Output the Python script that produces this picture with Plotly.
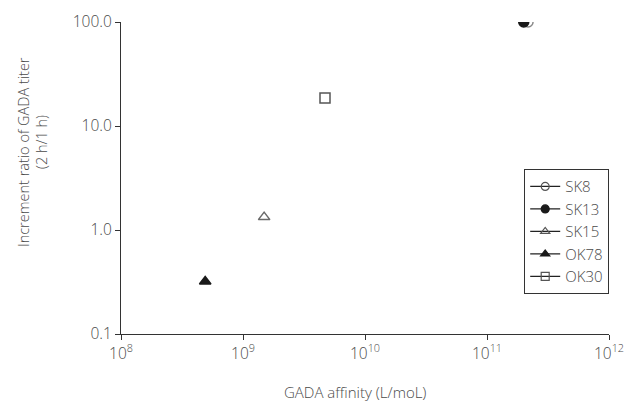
import plotly.graph_objects as go

names = ["SK8", "SK13", "SK15", "OK78", "OK30"]
affinity = [2.17e11, 2.0e11, 1.49e9, 4.9e8, 4.7e9]
ratio = [100.0, 100.0, 1.33, 0.32, 18.6]
symbols = ["circle-open", "circle", "triangle-up-open", "triangle-up", "square-open"]
marker_colors = ["#8a8a8a", "#1a1a1a", "#6a6a6a", "#1a1a1a", "#555555"]

x_tickvals = [1e8, 1e9, 1e10, 1e11, 1e12]
x_ticktext = ["10<sup>8</sup>", "10<sup>9</sup>", "10<sup>10</sup>", "10<sup>11</sup>", "10<sup>12</sup>"]
y_tickvals = [0.1, 1, 10, 100]
y_ticktext = ["0.1", "1.0", "10.0", "100.0"]

font_col = "#4a4a4a"
OFF = 8  # default page body margin
W, H = 638 - OFF, 408 - OFF
# target plot area in page pixels: x 121..609, y 22..334
L, R, T, B = 121 - OFF, 638 - 609, 22 - OFF, 408 - 334
pw, ph = W - L - R, H - T - B


def px_x(p):
    return (p - OFF - L) / pw


def px_y(p):
    return (H - B - (p - OFF)) / ph


fig = go.Figure()
for n, x, y, s, c in zip(names, affinity, ratio, symbols, marker_colors):
    fig.add_trace(go.Scatter(
        x=[x], y=[y], name=n, mode="markers", showlegend=False,
        marker=dict(symbol=s, size=10, color=c, line=dict(color=c, width=1.5)),
    ))
for n, s in zip(names, symbols):
    lc = "#555555" if "open" in s else "#1a1a1a"
    fig.add_trace(go.Scatter(
        x=[None], y=[None], name=n, mode="lines+markers",
        line=dict(color="#222222", width=1.3),
        marker=dict(symbol=s, size=8, color=lc, line=dict(color=lc, width=1.2)),
    ))

fig.update_layout(
    width=W, height=H,
    margin=dict(l=L, r=R, t=T, b=B),
    paper_bgcolor="white", plot_bgcolor="white",
    font=dict(family="Open Sans", size=15, color=font_col, weight=300),
    showlegend=True,
    legend=dict(x=px_x(524), y=px_y(169), xanchor="left", yanchor="top",
                bordercolor="#333333", borderwidth=1.2, bgcolor="white",
                font=dict(size=15, color=font_col, weight=300), tracegroupgap=0,
                itemwidth=30),
)
fig.update_xaxes(type="log", range=[8, 12], tickvals=x_tickvals, ticktext=x_ticktext,
                 showline=True, linecolor="#333333", linewidth=1.2,
                 ticks="outside", ticklen=5, tickcolor="#333333",
                 showgrid=False, zeroline=False, automargin=False,
                 tickfont=dict(size=15.5, weight=300))
fig.update_yaxes(type="log", range=[-1, 2], tickvals=y_tickvals, ticktext=y_ticktext,
                 showline=True, linecolor="#333333", linewidth=1.2,
                 ticks="outside", ticklen=5, tickcolor="#333333",
                 showgrid=False, zeroline=False, automargin=False,
                 tickfont=dict(size=15.5, weight=300))

fig.add_annotation(text="GADA affinity (L/moL)", xref="paper", yref="paper",
                   x=px_x(355), y=px_y(392), showarrow=False,
                   xanchor="center", yanchor="middle", font=dict(size=15))
fig.add_annotation(text="Increment ratio of GADA titer", xref="paper", yref="paper",
                   x=px_x(23), y=px_y(152), showarrow=False, textangle=-90,
                   xanchor="center", yanchor="middle", font=dict(size=14.5))
fig.add_annotation(text="(2 h/1 h)", xref="paper", yref="paper",
                   x=px_x(41), y=px_y(142), showarrow=False, textangle=-90,
                   xanchor="center", yanchor="middle", font=dict(size=14.5))

fig.write_html("out.html")
